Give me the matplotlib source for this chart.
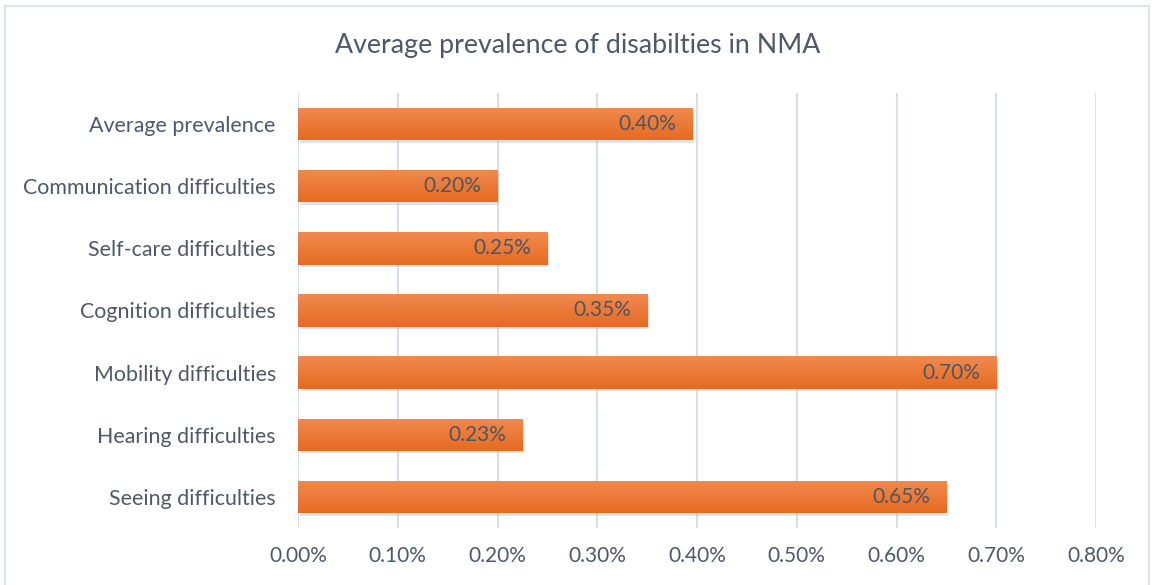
import matplotlib
matplotlib.use("Agg")
import matplotlib.pyplot as plt
import numpy as np
from matplotlib.patches import Rectangle
from matplotlib.colors import LinearSegmentedColormap

categories = ["Seeing difficulties", "Hearing difficulties", "Mobility difficulties",
              "Cognition difficulties", "Self-care difficulties",
              "Communication difficulties", "Average prevalence"]
values = [0.65, 0.225, 0.70, 0.35, 0.25, 0.20, 0.395]
value_labels = ["0.65%", "0.23%", "0.70%", "0.35%", "0.25%", "0.20%", "0.40%"]
xticks = [0.0, 0.1, 0.2, 0.3, 0.4, 0.5, 0.6, 0.7, 0.8]
xtick_labels = ["0.00%", "0.10%", "0.20%", "0.30%", "0.40%", "0.50%", "0.60%", "0.70%", "0.80%"]
title = "Average prevalence of disabilties in NMA"

plt.rcParams['font.family'] = ['Lato', 'DejaVu Sans']
text_color = "#4f5868"

fig = plt.figure(figsize=(11.52, 5.85), dpi=100)
fig.patch.set_facecolor("white")
# outer frame
fig.add_artist(Rectangle((5/1152, -0.02), 1144/1152, 1 - 6/585 + 0.02, transform=fig.transFigure,
                         fill=False, edgecolor="#dfe4ea", linewidth=1.5))

ax = fig.add_axes([298/1152, 1 - 528/585, (1096 - 298)/1152, (528 - 93)/585])
ax.set_xlim(0, 0.8)
ax.set_ylim(-0.5, len(categories) - 0.5)
for s in ax.spines.values():
    s.set_visible(False)
ax.set_xticks(xticks)
ax.set_xticklabels(xtick_labels)
ax.set_yticks(range(len(categories)))
ax.set_yticklabels(categories)
ax.tick_params(axis='x', length=0, labelsize=15, colors=text_color, pad=13)
ax.tick_params(axis='y', length=0, labelsize=15.4, colors=text_color, pad=16)
ax.xaxis.grid(True, color="#d9dee8", linewidth=1.5)
ax.set_axisbelow(True)

cmap = LinearSegmentedColormap.from_list("og", ["#e66a21", "#f08a50"])
grad = np.linspace(0, 1, 64).reshape(-1, 1)
h = 0.52
bars = ax.barh(range(len(categories)), values, height=h, color="#ec7a37", zorder=2)
for b, v, lab in zip(bars, values, value_labels):
    y0 = b.get_y()
    sh = Rectangle((0.002, y0 - 0.04), v, h, facecolor="#b0b0b0", alpha=0.35,
                   edgecolor="none", zorder=1.5)
    ax.add_patch(sh)
    im = ax.imshow(grad, extent=(0, v, y0, y0 + h), aspect='auto', cmap=cmap,
                   origin='lower', zorder=2.5)
    im.set_clip_path(b)
    ax.text(v - 0.016, y0 + h / 2, lab, ha='right', va='center', fontsize=15,
            color="#50555e", zorder=3)

ax.set_xlim(0, 0.8)
ax.set_ylim(-0.5, len(categories) - 0.5)

fig.text(578/1152, 1 - 45/585, title, ha='center', va='center', fontsize=19.3, color=text_color)

fig.savefig("out.png", dpi=100)
